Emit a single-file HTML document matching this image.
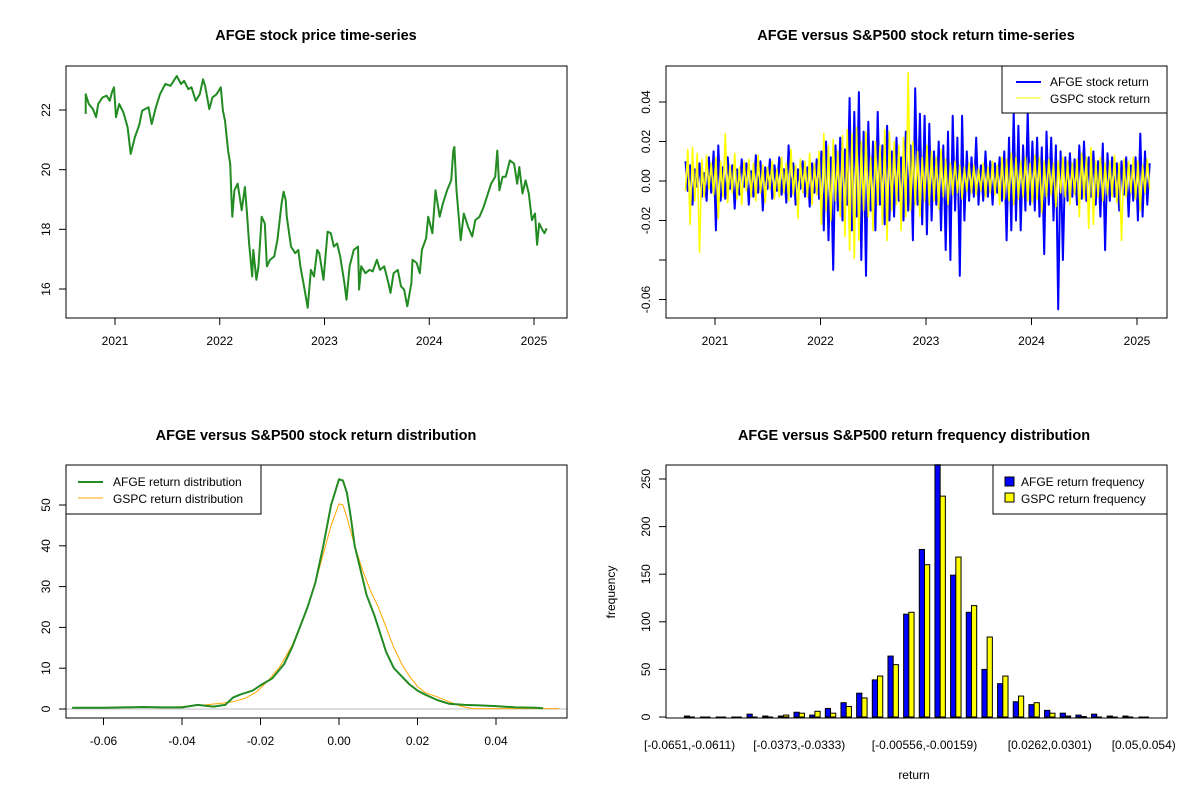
<!DOCTYPE html>
<html><head><meta charset="utf-8"><style>
body{margin:0;background:#fff;}
svg{display:block;font-family:"Liberation Sans",Arial,sans-serif;}
</style></head><body>
<svg id="c" width="1200" height="800" viewBox="0 0 1200 800"></svg>
<script>
// ---------- Panel 1: price ----------
const priceDates=[2020.72,2020.72,2020.75,2020.79,2020.82,2020.84,2020.88,2020.92,2020.95,2020.97,2020.99,2021.01,2021.04,2021.08,2021.12,2021.15,2021.19,2021.23,2021.26,2021.32,2021.35,2021.39,2021.43,2021.48,2021.53,2021.59,2021.63,2021.66,2021.70,2021.73,2021.77,2021.81,2021.84,2021.86,2021.90,2021.93,2021.97,2022.01,2022.03,2022.05,2022.08,2022.10,2022.11,2022.12,2022.14,2022.17,2022.19,2022.21,2022.24,2022.26,2022.28,2022.31,2022.32,2022.35,2022.37,2022.40,2022.43,2022.45,2022.48,2022.52,2022.55,2022.59,2022.61,2022.63,2022.64,2022.68,2022.72,2022.75,2022.77,2022.81,2022.84,2022.87,2022.90,2022.93,2022.95,2022.99,2023.03,2023.06,2023.09,2023.12,2023.15,2023.19,2023.21,2023.24,2023.28,2023.32,2023.33,2023.35,2023.39,2023.43,2023.46,2023.50,2023.53,2023.57,2023.61,2023.63,2023.66,2023.70,2023.73,2023.76,2023.79,2023.83,2023.84,2023.88,2023.91,2023.93,2023.97,2023.99,2024.03,2024.06,2024.10,2024.13,2024.17,2024.21,2024.23,2024.24,2024.26,2024.30,2024.33,2024.37,2024.41,2024.44,2024.48,2024.52,2024.55,2024.59,2024.63,2024.65,2024.67,2024.70,2024.73,2024.77,2024.81,2024.84,2024.86,2024.89,2024.92,2024.95,2024.98,2025.01,2025.03,2025.05,2025.08,2025.10,2025.12];
const priceValues=[21.87,22.53,22.20,22.03,21.76,22.20,22.42,22.48,22.31,22.59,22.76,21.76,22.20,21.92,21.42,20.53,21.09,21.48,21.98,22.09,21.53,22.09,22.53,22.87,22.81,23.14,22.87,22.98,22.70,22.76,22.31,22.53,23.03,22.81,22.03,22.42,22.53,22.76,21.98,21.64,20.64,20.20,19.20,18.42,19.31,19.53,19.09,18.64,19.42,18.53,17.53,16.42,17.31,16.31,16.76,18.42,18.20,16.76,16.98,17.09,17.64,18.87,19.26,18.98,18.42,17.42,17.20,17.31,16.76,15.98,15.37,16.64,16.42,17.31,17.20,16.31,17.92,17.87,17.42,17.53,17.09,16.20,15.64,16.76,17.31,17.42,15.98,16.76,16.53,16.64,16.59,16.98,16.64,16.76,16.20,15.87,16.53,16.64,16.09,15.98,15.42,16.20,16.98,16.87,16.53,17.31,17.70,18.42,17.87,19.31,18.42,18.87,19.31,19.64,20.64,20.76,19.31,17.64,18.53,18.09,17.76,18.31,18.42,18.76,19.09,19.53,19.76,20.64,19.31,19.76,19.76,20.31,20.20,19.53,20.09,19.20,19.64,19.20,18.31,18.53,17.48,18.20,17.98,17.87,18.03];
const yearTicks=[2021,2022,2023,2024,2025];
const priceTicks=[16,18,20,22];
// ---------- Panel 2: returns ----------
const afgeReturns=[0.010,-0.005,0.008,-0.012,0.006,-0.003,0.009,-0.008,0.004,-0.010,0.012,-0.006,0.015,
-0.025,0.018,-0.010,0.007,-0.009,0.012,-0.004,0.008,-0.014,0.006,-0.007,0.011,-0.003,0.009,-0.012,0.005,-0.008,0.013,-0.006,0.010,-0.015,0.007,-0.004,0.011,-0.009,0.008,-0.005,0.012,-0.007,0.006,-0.011,0.018,-0.008,0.009,-0.012,0.006,-0.004,0.010,-0.008,0.007,-0.013,0.009,-0.006,0.011,-0.009,
0.015,-0.025,0.020,-0.030,0.012,-0.045,0.018,-0.015,0.022,-0.020,0.016,-0.012,0.042,-0.025,0.035,-0.018,0.045,-0.040,0.025,-0.048,0.030,-0.015,0.020,-0.025,0.035,-0.012,0.018,-0.022,0.028,-0.020,0.015,-0.018,0.022,-0.010,0.012,-0.020,0.025,-0.015,0.018,-0.030,0.047,-0.012,0.034,-0.022,0.033,
-0.027,0.029,-0.020,0.015,-0.012,0.020,-0.025,0.018,-0.035,0.025,-0.040,0.033,-0.015,0.022,-0.048,0.033,-0.020,0.015,-0.010,0.012,-0.008,0.022,-0.012,0.008,-0.010,0.015,-0.008,0.010,-0.012,0.009,-0.006,0.012,-0.010,0.015,-0.030,0.022,-0.025,0.035,-0.020,0.028,-0.025,0.018,-0.015,0.035,-0.012,
0.020,-0.015,0.022,-0.018,0.017,-0.037,0.025,-0.012,0.022,-0.020,0.018,-0.065,0.015,-0.040,0.012,-0.010,0.014,-0.008,0.011,-0.012,0.018,-0.009,0.020,-0.010,0.012,-0.008,0.015,-0.012,0.010,-0.018,0.019,-0.035,0.014,-0.010,0.012,-0.008,0.009,-0.015,0.010,-0.007,0.012,-0.018,0.008,-0.010,0.012,
-0.020,0.024,-0.018,0.015,-0.012,0.009];
const gspcReturns=[-0.005,0.016,-0.022,0.017,-0.010,0.014,-0.036,0.011,-0.008,0.013,-0.004,0.009,-0.007,
0.012,-0.019,0.010,-0.008,0.024,-0.011,0.008,-0.006,0.014,-0.009,0.007,-0.012,0.010,-0.005,0.011,-0.008,0.009,-0.010,0.013,-0.006,0.008,-0.011,0.007,-0.004,0.010,-0.009,0.006,-0.008,0.012,-0.006,0.009,-0.010,0.016,-0.007,0.008,-0.019,0.011,-0.006,0.010,-0.008,0.014,-0.012,0.009,-0.007,0.015,
-0.022,0.024,-0.015,0.018,-0.020,0.021,-0.010,0.015,-0.018,0.023,-0.028,0.026,-0.035,0.024,-0.039,0.027,-0.030,0.020,-0.015,0.025,-0.018,0.012,-0.025,0.020,-0.012,0.018,-0.022,0.026,-0.030,0.025,-0.015,0.020,-0.012,0.018,-0.025,0.022,-0.018,0.055,-0.015,0.020,-0.012,0.015,-0.018,0.012,-0.010,
0.018,-0.012,0.015,-0.010,0.012,-0.014,0.016,-0.008,0.011,-0.012,0.009,-0.007,0.010,-0.006,0.008,-0.009,0.007,-0.005,0.009,-0.006,0.008,-0.007,0.006,-0.005,0.009,-0.008,0.007,-0.006,0.010,-0.007,0.008,-0.012,0.012,-0.009,0.011,-0.010,0.014,-0.012,0.012,-0.009,0.010,-0.008,0.012,-0.010,0.009,
-0.011,0.013,-0.009,0.012,-0.016,0.010,-0.008,0.011,-0.007,0.009,-0.013,0.010,-0.006,0.012,-0.008,0.010,-0.012,0.009,-0.007,0.011,-0.018,0.014,-0.009,0.012,-0.024,0.017,-0.022,0.010,-0.008,0.012,-0.010,0.009,-0.007,0.010,-0.008,0.013,-0.011,0.009,-0.030,0.011,-0.008,0.010,-0.006,0.012,-0.009,
0.010,-0.015,0.008,-0.006,0.011,-0.004];
const returnStart=2020.72, returnEnd=2025.12;
const returnTicks=[-0.06,-0.04,-0.02,0,0.02,0.04];
const returnTickLabels=["-0.06","","-0.02","0.00","0.02","0.04"];
// ---------- Panel 3: density ----------
const afgeDensX=[-0.068,-0.06,-0.05,-0.045,-0.04,-0.036,-0.032,-0.029,-0.027,-0.025,-0.022,-0.02,-0.017,-0.014,-0.012,-0.01,-0.008,-0.006,-0.004,-0.002,0,0.001,0.002,0.003,0.004,0.006,0.007,0.009,0.01,0.012,0.014,0.016,0.018,0.02,0.022,0.025,0.028,0.032,0.035,0.04,0.045,0.05,0.052];
const afgeDensY=[0.3,0.3,0.5,0.4,0.4,1.0,0.6,1.0,2.8,3.6,4.5,5.8,7.5,11,15,20,25,31,40,50,56.3,56,53,47,40,32,28,23,20,14,10,8,6,4.5,3.5,2.2,1.3,1.0,0.9,0.7,0.4,0.3,0.2];
const gspcDensX=[-0.046,-0.04,-0.035,-0.03,-0.027,-0.024,-0.021,-0.018,-0.015,-0.012,-0.01,-0.008,-0.006,-0.004,-0.002,0,0.001,0.002,0.004,0.006,0.008,0.01,0.012,0.014,0.016,0.018,0.02,0.022,0.025,0.028,0.031,0.034,0.05,0.056];
const gspcDensY=[0.3,0.6,0.9,1.4,1.8,2.6,4.2,7,10.5,15.5,20,25,31,38,45,50.3,50,47,40,34,29,25,20,15,11,8,5.5,4,3,1.8,0.7,0.1,0.1,0.1];
const densXTicks=[-0.06,-0.04,-0.02,0,0.02,0.04];
const densXLabels=["-0.06","-0.04","-0.02","0.00","0.02","0.04"];
const densYTicks=[0,10,20,30,40,50];
// ---------- Panel 4: histogram ----------
const afgeFreq=[1,0,0,0,3,1,1,5,2,9,15,25,39,64,108,176,265,149,110,50,35,16,13,7,4,2,3,1,1,0];
const gspcFreq=[0,0,0,0,0,0,2,4,6,4,11,20,43,55,110,160,232,168,117,84,43,22,15,4,1,0.5,0,0,0,0];
const binLabels={0:"[-0.0651,-0.0611)",7:"[-0.0373,-0.0333)",15:"[-0.00556,-0.00159)",23:"[0.0262,0.0301)",29:"[0.05,0.054)"};
const freqTicks=[0,50,100,150,200,250];

const NS="http://www.w3.org/2000/svg";
const svg=document.getElementById('c');
function mk(tag,attrs,parent,txt){const e=document.createElementNS(NS,tag);for(const k in attrs)e.setAttribute(k,attrs[k]);if(txt!==undefined)e.textContent=txt;(parent||svg).appendChild(e);return e;}
function lin(d0,d1,r0,r1){return v=>r0+(v-d0)/(d1-d0)*(r1-r0);}
function frame(x0,y0,x1,y1,name){const r=mk('rect',{x:x0,y:y0,width:x1-x0,height:y1-y0,fill:'none',stroke:'#000','stroke-width':1});}
function title(x,y,t,name){const e=mk('text',{x:x,y:y,'text-anchor':'middle','font-size':'14.5','font-weight':'bold'},svg,t);}
function xAxis(ticks,labels,sx,y,name){const g=mk('g',{});
 mk('line',{x1:sx(ticks[0]),x2:sx(ticks[ticks.length-1]),y1:y,y2:y,stroke:'#000'},g);
 ticks.forEach((t,i)=>{mk('line',{x1:sx(t),x2:sx(t),y1:y,y2:y+7,stroke:'#000'},g);mk('text',{x:sx(t),y:y+27,'text-anchor':'middle','font-size':'12'},g,labels[i]);});}
function yAxis(ticks,labels,sy,x,name){const g=mk('g',{});
 mk('line',{x1:x,x2:x,y1:sy(ticks[0]),y2:sy(ticks[ticks.length-1]),stroke:'#000'},g);
 ticks.forEach((t,i)=>{const yy=sy(t);mk('line',{x1:x,x2:x-7,y1:yy,y2:yy,stroke:'#000'},g);if(labels[i]!=='')mk('text',{x:x-16,y:yy,'text-anchor':'middle','font-size':'12',transform:`rotate(-90 ${x-16} ${yy})`},g,labels[i]);});}
function poly(xs,ys,sx,sy,color,w,name){const p=xs.map((x,i)=>sx(x).toFixed(1)+','+sy(ys[i]).toFixed(1)).join(' ');const e=mk('polyline',{points:p,fill:'none',stroke:color,'stroke-width':w,'stroke-linejoin':'round'});}

// Panel 1
{const sx=lin(2021,2025,115,534), sy=lin(16,22,289,110);
 title(316,40,'AFGE stock price time-series','price-chart-title');
 poly(priceDates,priceValues,sx,sy,'#228B22',2,'afge-price-line');
 frame(66,66,567,318,'price-plot-frame');
 xAxis(yearTicks,yearTicks.map(String),sx,318,'price-x-axis');
 yAxis(priceTicks,priceTicks.map(String),sy,66,'price-y-axis');}

// Panel 2
{const sx=lin(2021,2025,715,1137), sy=lin(0,0.04,181,102);
 title(916,40,'AFGE versus S&P500 stock return time-series','return-chart-title');
 const n=afgeReturns.length; const dates=afgeReturns.map((_,i)=>returnStart+(returnEnd-returnStart)*i/(n-1));
 poly(dates,afgeReturns,sx,sy,'#0000FF',2,'afge-return-line');
 const m=gspcReturns.length; const d2=gspcReturns.map((_,i)=>returnStart+(returnEnd-returnStart)*i/(m-1));
 poly(d2,gspcReturns,sx,sy,'#FFFF00',1.6,'gspc-return-line');
 frame(666,66,1167,318,'return-plot-frame');
 xAxis(yearTicks,yearTicks.map(String),sx,318,'return-x-axis');
 yAxis(returnTicks,returnTickLabels,sy,666,'return-y-axis');
 const lg=mk('g',{});
 mk('rect',{x:1002,y:66,width:165,height:47,fill:'#fff',stroke:'#000'},lg);
 mk('line',{x1:1016,x2:1041,y1:82,y2:82,stroke:'#0000FF','stroke-width':2},lg);
 mk('line',{x1:1016,x2:1041,y1:98,y2:98,stroke:'#FFFF00','stroke-width':1},lg);
 mk('text',{x:1050,y:86,'font-size':'12'},lg,'AFGE stock return');
 mk('text',{x:1050,y:103,'font-size':'12'},lg,'GSPC stock return');}

// Panel 3
{const sx=lin(0,0.04,339,496), sy=lin(0,50,709,505);
 title(316,440,'AFGE versus S&P500 stock return distribution','density-chart-title');
 const b=mk('line',{x1:66,x2:567,y1:sy(0),y2:sy(0),stroke:'#BEBEBE'});
 poly(gspcDensX,gspcDensY,sx,sy,'#FFA500',1,'gspc-density-line');
 poly(afgeDensX,afgeDensY,sx,sy,'#228B22',2,'afge-density-line');
 frame(66,465,567,718,'density-plot-frame');
 xAxis(densXTicks,densXLabels,sx,718,'density-x-axis');
 yAxis(densYTicks,densYTicks.map(String),sy,66,'density-y-axis');
 const lg=mk('g',{});
 mk('rect',{x:66,y:465,width:195,height:49,fill:'#fff',stroke:'#000'},lg);
 mk('line',{x1:78,x2:103,y1:482,y2:482,stroke:'#228B22','stroke-width':2},lg);
 mk('line',{x1:78,x2:103,y1:498,y2:498,stroke:'#FFA500','stroke-width':1},lg);
 mk('text',{x:113,y:486,'font-size':'12'},lg,'AFGE return distribution');
 mk('text',{x:113,y:503,'font-size':'12'},lg,'GSPC return distribution');}

// Panel 4
{const step=15.66, cx=k=>689.6+step*k, bw=step/3, sy=lin(0,250,717,479);
 title(914,440,'AFGE versus S&P500 return frequency distribution','histogram-chart-title');
 function bar(v,x,fill,name){
  if(v<=0){const l=mk('line',{x1:x,x2:x+bw,y1:sy(0),y2:sy(0),stroke:'#000','stroke-width':1});
   
   return;}
  const r=mk('rect',{x:x,y:sy(v),width:bw,height:sy(0)-sy(v),fill:fill,stroke:'#000','stroke-width':1});
  
  }
 afgeFreq.forEach((v,k)=>bar(v,cx(k)-bw,'#0000FF','afge-bar'));
 gspcFreq.forEach((v,k)=>bar(v,cx(k),'#FFFF00','gspc-bar'));
 frame(666,465,1167,718,'histogram-plot-frame');
 const g=mk('g',{});
 for(const k in binLabels){mk('text',{x:cx(+k),y:749,'text-anchor':'middle','font-size':'12'},g,binLabels[k]);}
 yAxis(freqTicks,freqTicks.map(String),sy,666,'histogram-y-axis');
 const xl=mk('text',{x:914,y:779,'text-anchor':'middle','font-size':'12'},svg,'return');
 const yl=mk('text',{x:615,y:592,'text-anchor':'middle','font-size':'12',transform:'rotate(-90 615 592)'},svg,'frequency');
 const lg=mk('g',{});
 mk('rect',{x:993,y:465,width:174,height:49,fill:'#fff',stroke:'#000'},lg);
 mk('rect',{x:1005,y:477,width:9,height:9,fill:'#0000FF',stroke:'#000'},lg);
 mk('rect',{x:1005,y:493,width:9,height:9,fill:'#FFFF00',stroke:'#000'},lg);
 mk('text',{x:1021,y:486,'font-size':'12'},lg,'AFGE return frequency');
 mk('text',{x:1021,y:503,'font-size':'12'},lg,'GSPC return frequency');}
</script>
</body></html>
